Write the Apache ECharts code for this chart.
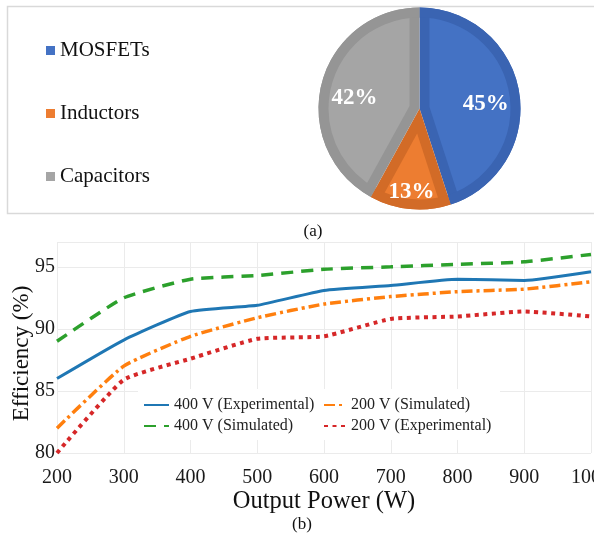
<!DOCTYPE html>
<html>
<head>
<meta charset="utf-8">
<script src="https://cdn.jsdelivr.net/npm/echarts@6/dist/echarts.min.js"></script>
<style>
  html, body { margin: 0; padding: 0; background: #fff; }
  #chart { width: 594px; height: 539px; }
</style>
</head>
<body>
<div id="chart"></div>
<script>
// (a) loss breakdown by component
const partNames = ['MOSFETs', 'Inductors', 'Capacitors'];
const partShares = [45, 13, 42];

// (b) efficiency vs. output power
const powerW = [200, 300, 400, 500, 600, 700, 800, 900, 1000];
const eff400Exp = [86.0, 89.1, 91.4, 91.9, 93.1, 93.5, 94.0, 93.9, 94.6];
const eff400Sim = [89.0, 92.5, 94.0, 94.3, 94.8, 95.0, 95.2, 95.4, 96.0];
const eff200Sim = [82.0, 87.0, 89.4, 90.9, 92.0, 92.6, 93.0, 93.2, 93.8];
const eff200Exp = [80.0, 85.9, 87.6, 89.2, 89.4, 90.8, 91.0, 91.4, 91.0];

const SERIF = '"Liberation Serif", "Times New Roman", serif';
const partFill = ['#4472c4', '#ed7d31', '#a5a5a5'];
const partEdge = ['#3a64b2', '#d26b27', '#959595'];

// pie geometry
const PIE_CX = 419.5, PIE_CY = 108.5, PIE_R = 101, EDGE = 10;
const total = partShares.reduce((a, b) => a + b, 0);

function sliceAngles(i) {
  let before = 0;
  for (let k = 0; k < i; k++) before += partShares[k];
  const half = partShares[i] / total * Math.PI;
  const mid = Math.PI / 2 - (before + partShares[i] / 2) / total * 2 * Math.PI;
  return { half, mid };
}

function pieData(colorFor) {
  return partShares.map((v, k) => ({ value: v, name: partNames[k], itemStyle: { color: colorFor(k) } }));
}

const pieBase = {
  type: 'pie',
  startAngle: 90,
  clockwise: true,
  silent: true,
  animation: false,
  avoidLabelOverlap: false,
  label: { show: false },
  labelLine: { show: false },
  itemStyle: { borderWidth: 0 },
  emphasis: { disabled: true }
};

const pieSeries = [];
// dark base disc
pieSeries.push(Object.assign({}, pieBase, {
  center: [PIE_CX, PIE_CY], radius: PIE_R, z: 1,
  data: pieData(k => partEdge[k])
}));
// lighter face of each slice, pulled in from the edges
partShares.forEach((v, i) => {
  const { half, mid } = sliceAngles(i);
  const off = EDGE / Math.sin(half);
  const rInner = Math.sqrt((PIE_R - EDGE) ** 2 - EDGE ** 2) - off * Math.cos(half) + 1;
  pieSeries.push(Object.assign({}, pieBase, {
    center: [PIE_CX + off * Math.cos(mid), PIE_CY - off * Math.sin(mid)],
    radius: rInner, z: 2,
    data: pieData(k => k === i ? partFill[i] : 'rgba(0,0,0,0)')
  }));
});
// dark outer rim
pieSeries.push(Object.assign({}, pieBase, {
  center: [PIE_CX, PIE_CY], radius: [PIE_R - EDGE, PIE_R], z: 3,
  data: pieData(k => partEdge[k])
}));
// percentage labels
function labelRing(dist, which, fmt, lineH) {
  return Object.assign({}, pieBase, {
    center: [PIE_CX, PIE_CY], radius: [0, dist * 2], z: 4,
    data: partShares.map((v, k) => ({
      value: v, name: partNames[k],
      itemStyle: { color: 'rgba(0,0,0,0)' },
      label: { show: which.includes(k) }
    })),
    label: {
      show: true, position: 'inside', formatter: fmt, lineHeight: lineH,
      color: '#fff', fontFamily: SERIF, fontWeight: 'bold', fontSize: 23
    }
  });
}
pieSeries.push(labelRing(64, [0, 2], '\n{d}%', 12));
pieSeries.push(labelRing(81, [1], '{d}%', 24));

const lineCommon = {
  type: 'line', symbol: 'none', showSymbol: false, smooth: 0.15,
  animation: false, silent: true, z: 3
};
const pair = arr => powerW.map((p, i) => [p, arr[i]]);

const lineSeries = [
  Object.assign({}, lineCommon, { name: '400 V (Experimental)', data: pair(eff400Exp),
    lineStyle: { color: '#1f77b4', width: 3, type: 'solid' }, itemStyle: { color: '#1f77b4' } }),
  Object.assign({}, lineCommon, { name: '400 V (Simulated)', data: pair(eff400Sim),
    lineStyle: { color: '#2ca02c', width: 3.5, type: [12, 8] }, itemStyle: { color: '#2ca02c' } }),
  Object.assign({}, lineCommon, { name: '200 V (Simulated)', data: pair(eff200Sim),
    lineStyle: { color: '#ff7f0e', width: 3.5, type: [11, 4, 3, 4] }, itemStyle: { color: '#ff7f0e' } }),
  Object.assign({}, lineCommon, { name: '200 V (Experimental)', data: pair(eff200Exp),
    lineStyle: { color: '#d62728', width: 4, type: [4, 4.5] }, itemStyle: { color: '#d62728' } })
];

const lineLegend = {
  orient: 'vertical', top: 392, itemGap: 5, itemHeight: 14, selectedMode: false,
  itemStyle: { opacity: 0 },
  textStyle: { fontFamily: SERIF, fontSize: 16, color: '#222' }
};

const chart = echarts.init(document.getElementById('chart'), null, { renderer: 'canvas' });
chart.setOption({
  animation: false,
  backgroundColor: '#fff',
  grid: { left: 57, right: 3, top: 242, bottom: 86, containLabel: false, outerBoundsMode: 'none' },
  xAxis: {
    type: 'value', min: 200, max: 1000, interval: 100,
    name: 'Output Power (W)', nameLocation: 'middle', nameGap: 35,
    nameTextStyle: { fontFamily: SERIF, fontSize: 24.5, color: '#111' },
    axisLine: { show: false }, axisTick: { show: false },
    axisLabel: { fontFamily: SERIF, fontSize: 20, color: '#1a1a1a', margin: 15,
      formatter: v => String(v) },
    splitLine: { show: true, lineStyle: { color: '#ebebeb', width: 1 } }
  },
  yAxis: {
    type: 'value', min: 80, max: 97, interval: 5,
    name: 'Efficiency (%)', nameLocation: 'middle', nameGap: 24, nameRotate: 90,
    nameMoveOverlap: false,
    nameTextStyle: { fontFamily: SERIF, fontSize: 23, color: '#111', padding: [0, 12, 0, 0] },
    axisLine: { show: false }, axisTick: { show: false },
    axisLabel: { fontFamily: SERIF, fontSize: 20, color: '#1a1a1a', margin: 2,
      formatter: v => (v % 5 === 0 ? String(v) : '') },
    splitLine: { show: true, lineStyle: { color: '#ebebeb', width: 1 } }
  },
  legend: [
    {
      orient: 'vertical', left: 41, top: 35, itemGap: 42,
      itemWidth: 9, itemHeight: 9, icon: 'rect',
      textStyle: { fontFamily: SERIF, fontSize: 21, color: '#111' },
      data: partNames.map((n, k) => ({ name: n, itemStyle: { color: partFill[k] } })),
      selectedMode: false
    },
    Object.assign({}, lineLegend, { left: 138, itemWidth: 25,
      data: ['400 V (Experimental)', '400 V (Simulated)'] }),
    Object.assign({}, lineLegend, { left: 318, itemWidth: 22,
      data: ['200 V (Simulated)', '200 V (Experimental)'] })
  ],
  graphic: [
    { type: 'rect', z: 0, silent: true,
      shape: { x: 7.5, y: 6.5, width: 600, height: 207 },
      style: { fill: 'none', stroke: '#d9d9d9', lineWidth: 1.5 } },
    { type: 'rect', z: 1, silent: true,
      shape: { x: 138, y: 389, width: 362, height: 51 },
      style: { fill: '#fff' } },
    { type: 'text', z: 5, silent: true, x: 313, y: 232,
      style: { text: '(a)', font: '17px ' + SERIF, fill: '#111', align: 'center', verticalAlign: 'middle' } },
    { type: 'text', z: 5, silent: true, x: 302, y: 525,
      style: { text: '(b)', font: '17px ' + SERIF, fill: '#111', align: 'center', verticalAlign: 'middle' } }
  ],
  series: pieSeries.concat(lineSeries)
});
</script>
</body>
</html>
